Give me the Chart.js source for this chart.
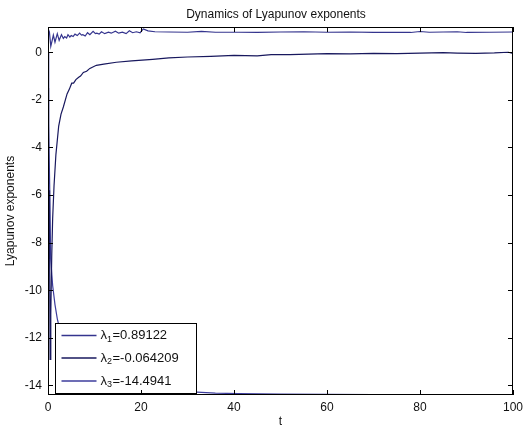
<!DOCTYPE html>
<html>
<head>
<meta charset="utf-8">
<script src="https://cdn.jsdelivr.net/npm/chart.js@4.4.1/dist/chart.umd.min.js"></script>
<style>
html, body { margin: 0; padding: 0; background: #fff; }
#wrap { width: 528px; height: 430px; }
</style>
</head>
<body>
<div id="wrap"><canvas id="lyapChart"></canvas></div>
<script>
// 讀圖估計的數據
const t1 = [0, 0.3, 0.6, 0.9, 1.15, 1.5, 2.0, 2.4, 2.9, 3.3, 3.6, 4.0, 4.3, 4.7, 5.0, 5.4, 5.8, 6.3, 6.8, 7.2, 7.5, 8.0, 8.5, 9.0, 9.7, 10.2, 10.5, 11.0, 11.5, 12.2, 13, 13.6, 14.5, 15.2, 16, 16.8, 17.5, 18.2, 19, 19.8, 20.5, 21.5, 23, 26, 30, 33, 36, 41, 45, 50, 55, 60, 65, 70, 75, 78, 80, 82, 85, 88, 90, 95, 100];
const lam1 = [1.0, 0.85, 0.25, 0.5, 0.72, 0.42, 0.78, 0.5, 0.74, 0.58, 0.66, 0.6, 0.74, 0.64, 0.7, 0.66, 0.76, 0.7, 0.8, 0.72, 0.74, 0.68, 0.82, 0.74, 0.88, 0.78, 0.8, 0.76, 0.86, 0.78, 0.84, 0.8, 0.88, 0.8, 0.84, 0.78, 0.9, 0.82, 0.86, 0.82, 0.98, 0.9, 0.86, 0.85, 0.84, 0.88, 0.84, 0.84, 0.83, 0.85, 0.86, 0.84, 0.85, 0.83, 0.84, 0.83, 0.87, 0.84, 0.85, 0.86, 0.83, 0.84, 0.85];

const t2 = [0, 0.08, 0.15, 0.22, 0.3, 0.36, 0.45, 0.6, 0.8, 1.0, 1.3, 1.7, 2.3, 2.8, 3.3, 4.1, 4.6, 5.1, 5.5, 6.0, 6.6, 7.0, 7.6, 8.3, 9.0, 10.4, 12, 14.7, 18, 22.5, 26, 30, 35, 40, 45, 48, 52, 56, 60, 65, 70, 75, 80, 85, 88, 92, 96, 99, 100];
const lam2 = [-1.5, -2.8, -6.0, -5.8, -8.0, -7.8, -12.9, -11.0, -8.6, -7.0, -5.6, -4.3, -3.1, -2.6, -2.3, -1.75, -1.55, -1.3, -1.3, -1.15, -1.05, -1.0, -0.85, -0.8, -0.68, -0.55, -0.5, -0.42, -0.36, -0.3, -0.24, -0.2, -0.17, -0.13, -0.15, -0.1, -0.1, -0.08, -0.06, -0.07, -0.05, -0.06, -0.04, -0.02, -0.04, -0.05, -0.03, 0.0, -0.05];

const t3 = [0, 0.1, 0.2, 0.35, 0.58, 1.0, 1.5, 2.0, 2.6, 3.5, 5, 7, 10, 15, 20, 28, 32, 36, 41, 50, 60, 70, 80, 85, 90, 100];
const lam3 = [0, -1.0, -3.0, -5.5, -8.7, -9.8, -10.6, -11.2, -11.7, -12.4, -13.1, -13.6, -13.95, -14.15, -14.22, -14.27, -14.28, -14.32, -14.34, -14.36, -14.37, -14.38, -14.39, -14.4, -14.43, -14.494];

const xTicks = [0, 20, 40, 60, 80, 100];
const yTicks = [0, -2, -4, -6, -8, -10, -12, -14];
const legendSubs = ['1', '2', '3'];
const legendValues = ['0.89122', '-0.064209', '-14.4941'];
const lineColors = ['#34348e', '#18185e', '#3c3c9c'];

const FONT = 'Liberation Sans, Arial, Helvetica, sans-serif';

function toPoints(ts, vs) {
    return ts.map((t, i) => ({ x: t, y: vs[i] }));
}

// MATLAB 風格外框、內側刻度、圖例與標題
const matlabFrame = {
    id: 'matlabFrame',
    afterDatasetsDraw(chart) {
        const ctx = chart.ctx;
        const a = chart.chartArea;
        const xs = chart.scales.x;
        const ys = chart.scales.y;
        ctx.save();

        // 圖例框
        const bx = a.left + 7.5, by = a.bottom - 71.5, bw = 141, bh = 70;
        ctx.fillStyle = '#fff';
        ctx.fillRect(bx, by, bw, bh);
        ctx.strokeStyle = '#000';
        ctx.lineWidth = 1;
        ctx.strokeRect(bx, by, bw, bh);
        const rows = [12, 34.5, 57.5];
        rows.forEach((dy, i) => {
            const yy = by + dy;
            ctx.strokeStyle = lineColors[i];
            ctx.lineWidth = 1.3;
            ctx.beginPath();
            ctx.moveTo(bx + 6, yy);
            ctx.lineTo(bx + 41, yy);
            ctx.stroke();
            ctx.fillStyle = '#111';
            ctx.textBaseline = 'middle';
            ctx.textAlign = 'left';
            ctx.font = '13px ' + FONT;
            let tx = bx + 45;
            ctx.fillText('λ', tx, yy);
            tx += ctx.measureText('λ').width;
            ctx.font = '9px ' + FONT;
            ctx.fillText(legendSubs[i], tx, yy + 4);
            tx += ctx.measureText(legendSubs[i]).width + 0.5;
            ctx.font = '13px ' + FONT;
            ctx.fillText('=' + legendValues[i], tx, yy);
        });

        // 外框
        ctx.strokeStyle = '#000';
        ctx.lineWidth = 1;
        ctx.strokeRect(Math.round(a.left) + 0.5, Math.round(a.top) + 0.5,
            Math.round(a.right - a.left) - 1, Math.round(a.bottom - a.top) - 1);

        // 內側刻度
        const tl = 5;
        ctx.beginPath();
        xTicks.forEach(v => {
            const px = Math.round(xs.getPixelForValue(v)) + 0.5;
            ctx.moveTo(px, a.bottom);
            ctx.lineTo(px, a.bottom - tl);
            ctx.moveTo(px, a.top);
            ctx.lineTo(px, a.top + tl);
        });
        yTicks.forEach(v => {
            const py = Math.round(ys.getPixelForValue(v)) + 0.5;
            ctx.moveTo(a.left, py);
            ctx.lineTo(a.left + tl, py);
            ctx.moveTo(a.right, py);
            ctx.lineTo(a.right - tl, py);
        });
        ctx.stroke();

        // 標題
        ctx.fillStyle = '#111';
        ctx.font = '12px ' + FONT;
        ctx.textAlign = 'center';
        ctx.textBaseline = 'middle';
        ctx.fillText('Dynamics of Lyapunov exponents', 276, 15);
        ctx.restore();
    }
};

const ctx = document.getElementById('lyapChart').getContext('2d');

new Chart(ctx, {
    type: 'line',
    data: {
        datasets: [
            { label: 'λ1', data: toPoints(t1, lam1), borderColor: lineColors[0] },
            { label: 'λ2', data: toPoints(t2, lam2), borderColor: lineColors[1] },
            { label: 'λ3', data: toPoints(t3, lam3), borderColor: lineColors[2] }
        ]
    },
    options: {
        responsive: true,
        maintainAspectRatio: false,
        animation: false,
        devicePixelRatio: 1,
        datasets: {
            line: { borderWidth: 1.2, pointRadius: 0, tension: 0, fill: false }
        },
        layout: { padding: { top: 27, right: 11, left: 0, bottom: 0 } },
        plugins: {
            legend: { display: false },
            title: { display: false },
            tooltip: { enabled: false }
        },
        scales: {
            x: {
                type: 'linear',
                min: 0,
                max: 100,
                afterBuildTicks: s => { s.ticks = xTicks.map(v => ({ value: v })); },
                afterFit: s => { s.height = 35; },
                grid: { display: false, drawTicks: false },
                border: { display: false },
                ticks: { padding: 5, color: '#111', font: { family: FONT, size: 12 }, maxRotation: 0, autoSkip: false },
                title: { display: true, text: 't', color: '#111', font: { family: FONT, size: 12 }, padding: { top: 0, bottom: 1 } }
            },
            y: {
                type: 'linear',
                min: -14.4,
                max: 1.06,
                afterBuildTicks: s => { s.ticks = yTicks.map(v => ({ value: v })); },
                afterFit: s => { s.width = 48; },
                grid: { display: false, drawTicks: false },
                border: { display: false },
                ticks: { padding: 6, color: '#111', font: { family: FONT, size: 12 }, autoSkip: false },
                title: { display: true, text: 'Lyapunov exponents', color: '#111', font: { family: FONT, size: 12 }, padding: { top: 3, bottom: 0 } }
            }
        }
    },
    plugins: [matlabFrame]
});
</script>
</body>
</html>
